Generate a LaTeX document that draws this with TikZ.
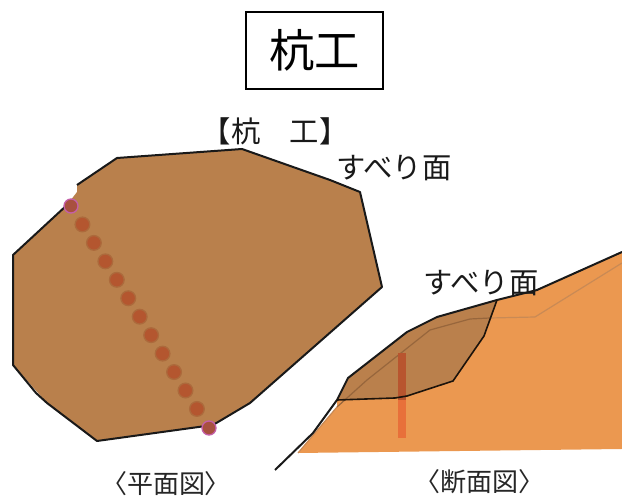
\documentclass[tikz,border=0pt]{standalone}
\usepackage{fontspec}
\setmainfont{Noto Sans CJK JP}
\definecolor{soil}{HTML}{EB9850}
\definecolor{soilline}{HTML}{C98A55}
\definecolor{massline}{HTML}{97663C}
\definecolor{mass}{HTML}{B9804C}
\definecolor{pileup}{HTML}{B8552F}
\definecolor{pilelow}{HTML}{E8703A}
\definecolor{dotfill}{HTML}{B4562F}
\definecolor{dotrim}{HTML}{AC6A3C}
\definecolor{endfill}{HTML}{A8503F}
\definecolor{endrim}{HTML}{C45FA8}
\tikzset{
  outline/.style={draw=black!90,line width=1.5pt,line join=round},
  pile/.style={circle,minimum size=11pt,inner sep=0pt,fill=dotfill,draw=dotrim,line width=1pt},
  endpile/.style={circle,minimum size=10.5pt,inner sep=0pt,fill=endfill,draw=endrim,line width=1pt},
  lab/.style={inner sep=0pt,text=black!90,font=\fontsize{22pt}{26pt}\selectfont},
  captext/.style={inner sep=0pt,text=black!85,font=\fontsize{19.5pt}{23pt}\selectfont}
}
\begin{document}
\begin{tikzpicture}[x=0.75pt,y=-0.75pt]
\useasboundingbox (0,0) rectangle (622,498);
% heading
\node[draw=black,line width=1.2pt,minimum width=103pt,minimum height=58pt,inner sep=0pt,
      font=\fontsize{34pt}{38pt}\selectfont] (title) at (314.5,50.5) {杭工};
\node[lab,font=\fontsize{22pt}{26pt}\selectfont] (sub) at (275,131) {【杭　工】};

% plan view
\fill[mass] (77,185) -- (117,158) -- (242,149) -- (330,180) -- (360,192) -- (382,287)
  -- (250,403) -- (213,425) -- (97,441) -- (47,403) -- (13,365) -- (13,255) -- (67,205) -- (77,192) -- cycle;
\draw[outline] (67,205) -- (13,255) -- (13,365) -- (36,393) -- (47,403) -- (97,441) -- (213,425) -- (250,403)
  -- (382,287) -- (360,192) -- (330,180) -- (242,149) -- (117,158) -- (77,185);
\node[endpile] (e1) at (71,206) {};
\node[endpile] (e2) at (209,428) {};
\foreach \i in {1,...,11}
  \node[pile] (p\i) at ({71+\i*11.45},{206+\i*18.45}) {};

% section view
\fill[soil] (298,453) -- (337,407) -- (337,400) -- (348,378) -- (407,332) -- (437,317) -- (497,300)
  -- (537,290) -- (622,252) -- (622,449) -- cycle;
\fill[mass,opacity=.96] (337,400) -- (348,378) -- (407,332) -- (437,317) -- (497,300) -- (484,336)
  -- (453,381) -- (407,396) -- (395,398) -- cycle;
\draw[soilline,line width=.9pt] (535,317) -- (622,263);
\draw[soilline,line width=.9pt] (298,453) -- (337,407);
\draw[massline,line width=.9pt] (337,407) -- (367,380) -- (430,330) -- (470,319) -- (490,318);
\draw[soilline,line width=.9pt] (490,318) -- (535,317);
\fill[pilelow] (398,400) rectangle (406,438);
\fill[pileup] (398,353) rectangle (406,400);
\draw[outline] (275,470) -- (313,433) -- (337,400) -- (348,378) -- (407,332) -- (437,317) -- (497,300)
  -- (537,290) -- (622,252);
\draw[black!85!mass,line width=1.2pt,line join=round] (337,400) -- (395,398) -- (407,396) -- (453,381) -- (484,336) -- (497,300);

% labels
\node[lab] (slip1) at (394,168) {すべり面};
\node[lab] (slip2) at (481,283) {すべり面};
\node[captext] (plan) at (166,484) {〈平面図〉};
\node[captext] (sect) at (479,482) {〈断面図〉};
\end{tikzpicture}
\end{document}
